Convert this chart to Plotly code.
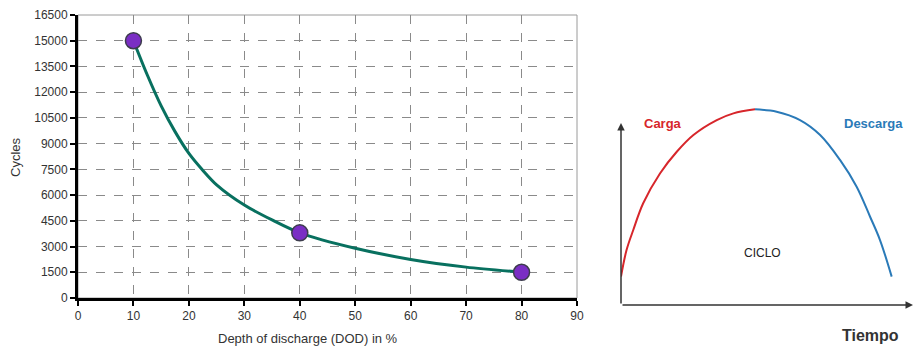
import plotly.graph_objects as go

# ---- Left chart data ----
dod = [10, 12.5, 15, 17.5, 20, 22.5, 25, 30, 35, 40, 50, 60, 70, 80]
cycles = [15000, 13000, 11200, 9700, 8430, 7450, 6600, 5420, 4550, 3800, 2900, 2250, 1800, 1500]
marker_dod = [10, 40, 80]
marker_cycles = [15000, 3800, 1500]
x_ticks = [0, 10, 20, 30, 40, 50, 60, 70, 80, 90]
y_ticks = [0, 1500, 3000, 4500, 6000, 7500, 9000, 10500, 12000, 13500, 15000, 16500]

# ---- Right diagram data (arbitrary time / level units) ----
carga_t = [0, 1.9, 4.2, 7.6, 13.4, 19.1, 24.8, 32.8, 38.5, 45.9]
carga_v = [15.6, 30.2, 41.2, 55.9, 72.4, 84.2, 93.4, 101.6, 105.3, 107.5]
descarga_t = [45.9, 53.3, 61.3, 68.2, 75.0, 80.7, 85.3, 88.7, 92.7]
descarga_v = [107.5, 106.2, 101.6, 93.4, 79.7, 65.0, 48.5, 35.7, 15.6]

W, H = 920, 355
FONT = "Liberation Sans, Arial, sans-serif"

def px_x(p):
    return p / W

def px_y(p):
    return (H - p) / H

fig = go.Figure()

fig.add_trace(go.Scatter(
    x=dod, y=cycles, mode="lines", line=dict(color="#08705f", width=3, shape="spline", smoothing=0.8),
    xaxis="x", yaxis="y", showlegend=False, hoverinfo="skip"))
fig.add_trace(go.Scatter(
    x=marker_dod, y=marker_cycles, mode="markers",
    marker=dict(size=16, color="#7a2ec4", line=dict(color="#3d3d4d", width=1.5)),
    xaxis="x", yaxis="y", showlegend=False))

fig.add_trace(go.Scatter(
    x=carga_t, y=carga_v, mode="lines", line=dict(color="#d7262b", width=2, shape="spline"),
    xaxis="x2", yaxis="y2", showlegend=False, hoverinfo="skip"))
fig.add_trace(go.Scatter(
    x=descarga_t, y=descarga_v, mode="lines", line=dict(color="#2a7ab8", width=2, shape="spline"),
    xaxis="x2", yaxis="y2", showlegend=False, hoverinfo="skip"))

grid = dict(showgrid=True, gridcolor="#8a8a8a", griddash="dash", gridwidth=1)

def ann(text, x, y, size, color, angle=0):
    return dict(text=text, xref="paper", yref="paper", x=px_x(x), y=px_y(y),
                xanchor="center", yanchor="middle", textangle=angle,
                showarrow=False, font=dict(size=size, color=color))

fig.update_layout(
    width=W, height=H,
    margin=dict(l=0, r=0, t=0, b=0),
    paper_bgcolor="white", plot_bgcolor="white",
    font=dict(family=FONT, size=12, color="#333333"),
    xaxis=dict(domain=[px_x(78), px_x(577)], range=[0, 90], tickvals=x_ticks,
               showline=True, linecolor="black", linewidth=3, ticks="outside",
               ticklen=5, tickwidth=2, tickcolor="black", zeroline=False,
               automargin=False, tickfont=dict(size=12, color="#333"), **grid),
    yaxis=dict(domain=[px_y(298), px_y(15)], range=[0, 16500], tickvals=y_ticks,
               tickformat="d",
               showline=True, linecolor="black", linewidth=3, ticks="outside",
               ticklen=5, tickwidth=2, tickcolor="black", zeroline=False,
               automargin=False, tickfont=dict(size=12, color="#333"), **grid),
    xaxis2=dict(domain=[px_x(621), px_x(913)], range=[0, 100], visible=False, anchor="y2"),
    yaxis2=dict(domain=[px_y(305), px_y(100)], range=[0, (305 - 100) / 1.82], visible=False, anchor="x2"),
    shapes=[
        dict(type="rect", xref="x domain", yref="y domain", x0=0, x1=1, y0=0, y1=1,
             line=dict(color="#9a9a9a", width=1), layer="below"),
    ],
    annotations=[
        ann("Cycles", 15, 157, 13, "#333", -90),
        ann("Depth of discharge (DOD) in %", 308, 338, 13, "#333"),
        # diagram axes arrows
        dict(xref="x2", yref="y2", axref="x2", ayref="y2", x=0, y=(305 - 123) / 1.82,
             ax=0, ay=0, showarrow=True, arrowhead=2, arrowsize=1, arrowwidth=1.5,
             arrowcolor="#333", text=""),
        dict(xref="x2", yref="y2", axref="x2", ayref="y2", x=100, y=0,
             ax=0, ay=0, showarrow=True, arrowhead=2, arrowsize=1, arrowwidth=1.5,
             arrowcolor="#333", text=""),
        ann("<b>Carga</b>", 663, 123, 13, "#d7262b"),
        ann("<b>Descarga</b>", 873, 123, 13, "#2a7ab8"),
        ann("CICLO", 762, 253, 12, "#222"),
        ann("<b>Tiempo</b>", 870, 335, 16, "#333"),
    ],
)

fig.write_html("out.html", config={"displayModeBar": False},
               post_script="document.body.style.margin='0px';document.body.style.overflow='hidden';")
